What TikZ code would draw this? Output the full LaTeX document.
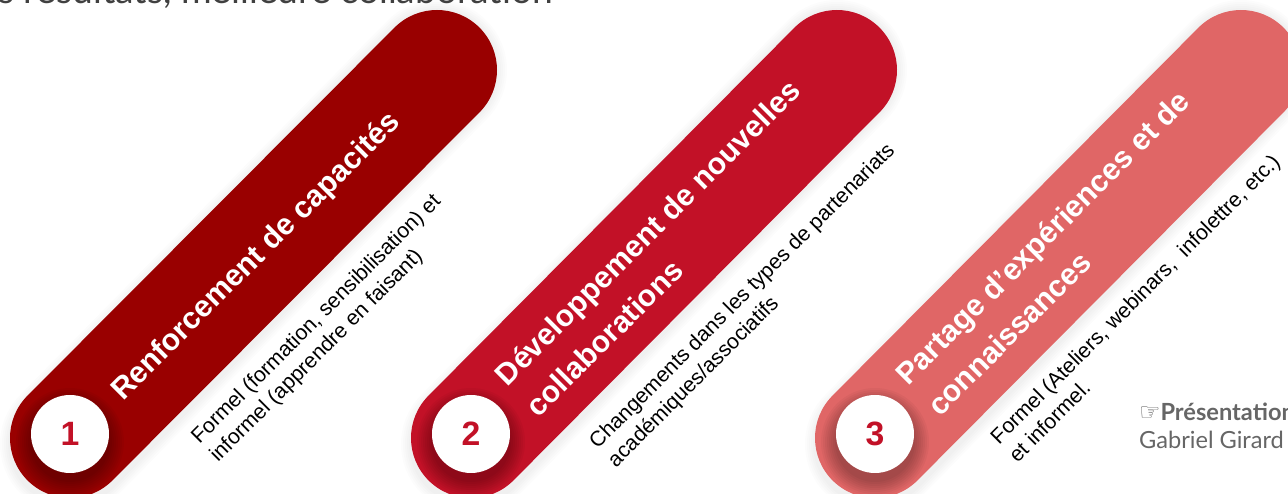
\documentclass[tikz,border=0pt]{standalone}
\usepackage{fontspec}
\setmainfont{Liberation Sans}
\newfontfamily\latofont{Lato}
\newfontfamily\symfont{DejaVu Sans}
\definecolor{darkred}{HTML}{990000}
\definecolor{midred}{HTML}{C21127}
\definecolor{softred}{HTML}{E06666}
\definecolor{greytext}{HTML}{666666}
\tikzset{
  pill/.style={line width=3cm, line cap=round},
  numdisc/.style={circle, fill=white, minimum size=1.95cm, inner sep=0pt, text=midred, font=\fontsize{24}{24}\selectfont\bfseries},
  titletext/.style={rotate=45, text=white, align=left, font=\fontsize{21.5}{31.5}\selectfont\bfseries},
  desctext/.style={rotate=45, text=black, align=left, font=\fontsize{15.1}{18.5}\selectfont},
}
\begin{document}
\begin{tikzpicture}
  \useasboundingbox (0,0) rectangle (32.2,12.35);
  \clip (0,0) rectangle (32.2,12.35);

  % cut-off line at the top
  \node[anchor=base west, inner sep=0pt, text=black!75, font=\latofont\fontsize{26.5}{26.5}\selectfont] (head) at (-0.05,12.25) {s résultats, meilleure collaboration};

  % pills, with the soft shadow round them
  \foreach \px/\qx/\pcol in {1.75/10.925/darkred, 11.775/20.925/midred, 21.875/31.025/softred} {
    \foreach \w in {3.5,3.4,3.3,3.2,3.1} {
      \draw[line width=\w cm, line cap=round, black, opacity=0.012] (\px,1.25) -- (\qx,10.6);
    }
    \draw[pill, \pcol] (\px,1.4) -- (\qx,10.6);
    \begin{scope}
      \clip (\px,1.4) circle (1.5);
      \foreach \r in {1.35,1.3,1.25,1.2,1.15,1.1,1.05,1.0} {
        \fill[black, opacity=0.035] (\px,1.3) circle (\r);
      }
    \end{scope}
  }

  % number discs
  \node[numdisc] (one) at (1.75,1.5) {1};
  \node[numdisc] (two) at (11.775,1.5) {2};
  \node[numdisc] (three) at (21.875,1.5) {3};

  % titles
  \node[titletext] (renfo) at (6.41,5.925) {Renforcement de capacités};
  \node[titletext] (dev) at (16.57,6.15) {Développement de nouvelles\\collaborations};
  \node[titletext] (partage) at (26.45,6.025) {Partage d’expériences et de\\connaissances};

  % descriptions
  \node[desctext] (form) at (8.15,4.13) {Formel (formation, sensibilisation) et\\informel (apprendre en faisant)};
  \node[desctext] (chan) at (18.8,4.7) {Changements dans les types de partenariats\\académiques/associatifs};
  \node[desctext] (ateliers) at (28.6,4.65) {Formel (Ateliers, webinars,\ \ infolettre, etc.)\\et informel.};

  % credit
  \node[anchor=base west, inner sep=0pt, text=greytext, font=\latofont\fontsize{16.8}{20}\selectfont, align=left] (credit) at (28.47,1.125) {{\symfont\fontsize{17}{20}\selectfont ☞}\textbf{Présentation}\\Gabriel Girard};
\end{tikzpicture}
\end{document}
